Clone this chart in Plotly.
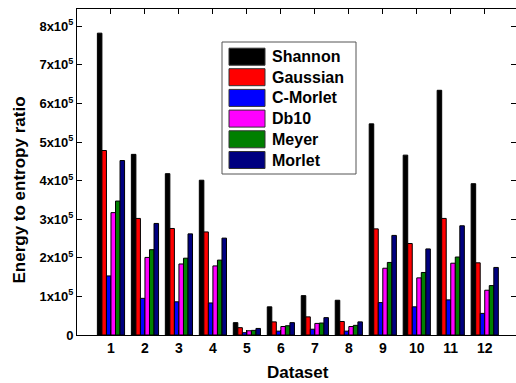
import plotly.graph_objects as go

datasets = [str(i) for i in range(1, 13)]
series_names = ["Shannon", "Gaussian", "C-Morlet", "Db10", "Meyer", "Morlet"]
series_colors = ["#000000", "#FF0000", "#0000FF", "#FF00FF", "#008000", "#000080"]

shannon  = [7.82e5, 4.68e5, 4.18e5, 4.01e5, 0.32e5, 0.73e5, 1.02e5, 0.90e5, 5.47e5, 4.66e5, 6.34e5, 3.92e5]
gaussian = [4.78e5, 3.02e5, 2.76e5, 2.67e5, 0.19e5, 0.34e5, 0.47e5, 0.35e5, 2.75e5, 2.37e5, 3.02e5, 1.87e5]
c_morlet = [1.53e5, 0.95e5, 0.86e5, 0.83e5, 0.06e5, 0.10e5, 0.15e5, 0.10e5, 0.84e5, 0.73e5, 0.91e5, 0.56e5]
db10     = [3.17e5, 2.01e5, 1.84e5, 1.79e5, 0.11e5, 0.22e5, 0.30e5, 0.22e5, 1.73e5, 1.48e5, 1.86e5, 1.16e5]
meyer    = [3.47e5, 2.21e5, 1.99e5, 1.94e5, 0.12e5, 0.24e5, 0.31e5, 0.25e5, 1.88e5, 1.62e5, 2.02e5, 1.28e5]
morlet   = [4.52e5, 2.89e5, 2.62e5, 2.51e5, 0.17e5, 0.32e5, 0.45e5, 0.34e5, 2.58e5, 2.23e5, 2.83e5, 1.75e5]
series_values = [shannon, gaussian, c_morlet, db10, meyer, morlet]

y_tick_vals = [0, 1e5, 2e5, 3e5, 4e5, 5e5, 6e5, 7e5, 8e5]
y_tick_text = ["0"] + [f"{i}x10<sup>5</sup>" for i in range(1, 9)]

FONT = "Liberation Sans, Arial, sans-serif"
x_nums = list(range(1, 13))

fig = go.Figure()
for name, color, vals in zip(series_names, series_colors, series_values):
    fig.add_trace(go.Bar(
        x=x_nums, y=vals, name=name,
        marker=dict(color=color, line=dict(color="#000000", width=1)),
        showlegend=False,
    ))

W, H = 516, 383
L, R, T, B = 77, 0, 9, 48
pw, ph = W - L - R, H - T - B

def px(xp):
    return (xp - L) / pw

def py(yp):
    return (H - B - yp) / ph

# Custom legend (box, swatches, labels)
shapes = [dict(type="rect", xref="paper", yref="paper",
               x0=px(222), x1=px(356), y0=py(174), y1=py(42),
               line=dict(color="#555555", width=1), fillcolor="white", layer="above")]
annotations = []
row_centers = [56.7, 77.2, 97.9, 118.6, 139.3, 160.0]
for name, color, yc in zip(series_names, series_colors, row_centers):
    shapes.append(dict(type="rect", xref="paper", yref="paper",
                       x0=px(229), x1=px(265), y0=py(yc + 8.5), y1=py(yc - 8.5),
                       line=dict(color="#333333", width=1), fillcolor=color, layer="above"))
    annotations.append(dict(xref="paper", yref="paper", x=px(270), y=py(yc),
                            xanchor="left", yanchor="middle", showarrow=False,
                            text=name,
                            font=dict(family=FONT, size=16, color="black", weight="bold")))

annotations.append(dict(xref="paper", yref="paper", x=px(18.5), y=py(190),
                        xanchor="center", yanchor="middle", showarrow=False, textangle=-90,
                        text="Energy to entropy ratio",
                        font=dict(family=FONT, size=17, color="black", weight="bold")))
annotations.append(dict(xref="paper", yref="paper", x=px(298), y=py(372.5),
                        xanchor="center", yanchor="middle", showarrow=False,
                        text="Dataset", borderpad=0,
                        font=dict(family=FONT, size=17, color="black", weight="bold")))

fig.update_layout(
    width=W, height=H,
    margin=dict(l=L, r=R, t=T, b=B, pad=0),
    paper_bgcolor="white", plot_bgcolor="white",
    barmode="group", bargap=0.2, bargroupgap=0,
    font=dict(family=FONT, size=13, color="black"),
    shapes=shapes, annotations=annotations,
    xaxis=dict(
        range=[0, 12.92], tickmode="array", tickvals=x_nums,
        ticktext=datasets,
        ticks="inside", ticklen=5, tickwidth=1, tickcolor="black",
        showline=True, linecolor="black", linewidth=1, mirror="ticks",
        showgrid=False, zeroline=False,
        tickfont=dict(family=FONT, size=14, color="black", weight="bold"),
    ),
    yaxis=dict(
        range=[0, 8.446e5], tickmode="array", tickvals=y_tick_vals,
        ticktext=y_tick_text,
        ticks="inside", ticklen=5, tickwidth=1, tickcolor="black",
        showline=True, linecolor="black", linewidth=1, mirror="ticks",
        showgrid=False, zeroline=False,
        tickfont=dict(family=FONT, size=13, color="black", weight="bold"),
    ),
)

fig.write_html("out.html")
